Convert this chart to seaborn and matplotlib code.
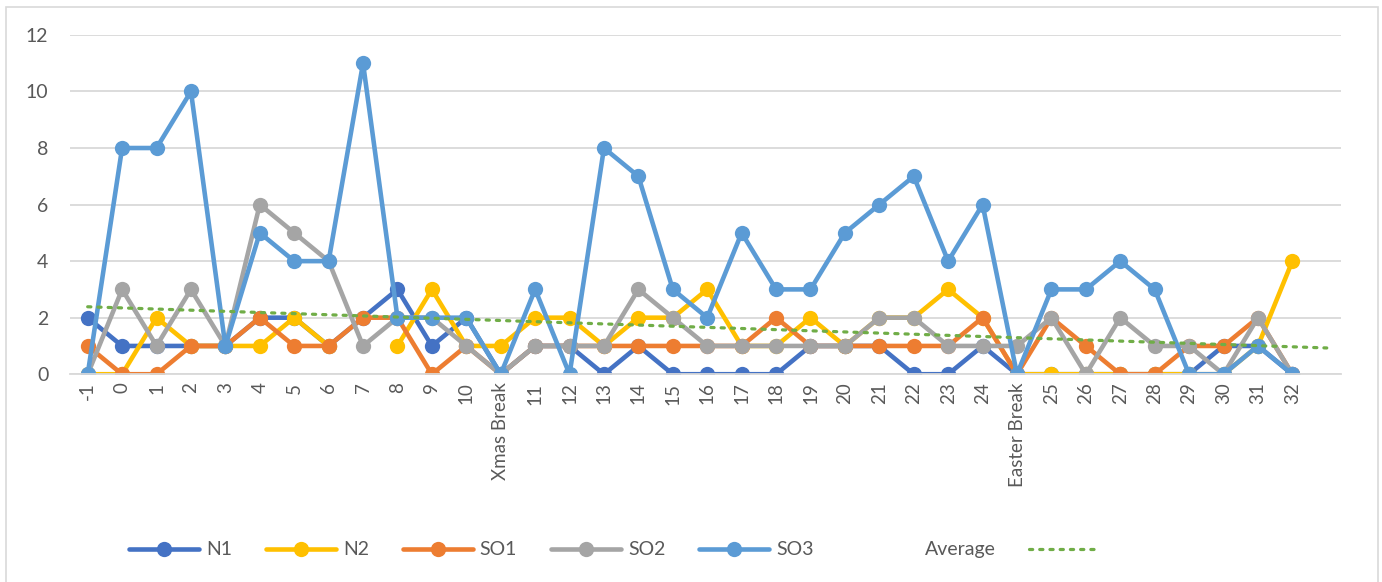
import pandas as pd
import numpy as np
import seaborn as sns
import matplotlib.pyplot as plt
from matplotlib.lines import Line2D
from matplotlib.patches import Rectangle

# weeks along the x axis
categories = ['-1', '0', '1', '2', '3', '4', '5', '6', '7', '8', '9', '10',
              'Xmas Break', '11', '12', '13', '14', '15', '16', '17', '18',
              '19', '20', '21', '22', '23', '24', 'Easter Break', '25', '26',
              '27', '28', '29', '30', '31', '32']

n1 = [2, 1, 1, 1, 1, 2, 2, 1, 2, 3, 1, 2, 0, 1, 1, 0, 1, 0, 0, 0, 0, 1, 1, 1,
      0, 0, 1, 0, 0, 0, 0, 0, 0, 1, 1, 0]
n2 = [0, 0, 2, 1, 1, 1, 2, 1, None, 1, 3, 1, 1, 2, 2, 1, 2, 2, 3, 1, 1, 2, 1, 2,
      2, 3, 2, 0, 0, 0, 0, 0, 0, 0, 1, 4]
so1 = [1, 0, 0, 1, 1, 2, 1, 1, 2, 2, 0, 1, 0, 1, 1, 1, 1, 1, 1, 1, 2, 1, 1, 1,
       1, 1, 2, 0, 2, 1, 0, 0, 1, 1, 2, 0]
so2 = [0, 3, 1, 3, 1, 6, 5, 4, 1, 2, 2, 1, 0, 1, 1, 1, 3, 2, 1, 1, 1, 1, 1, 2,
       2, 1, 1, 1, 2, 0, 2, 1, 1, 0, 2, 0]
so3 = [0, 8, 8, 10, 1, 5, 4, 4, 11, 2, 2, 2, 0, 3, 0, 8, 7, 3, 2, 5, 3, 3, 5, 6,
       7, 4, 6, 0, 3, 3, 4, 3, 0, 0, 1, 0]

series = {'N1': n1, 'N2': n2, 'SO1': so1, 'SO2': so2, 'SO3': so3}
colors = {'N1': '#4472C4', 'N2': '#FFC000', 'SO1': '#ED7D31',
          'SO2': '#A5A5A5', 'SO3': '#5B9BD5'}

df = pd.DataFrame(series, dtype=float)
df['idx'] = np.arange(len(categories))
df['Average'] = df[list(series)].mean(axis=1)

sns.set_theme(style='white')
plt.rcParams['font.family'] = ['Lato', 'DejaVu Sans']

fig = plt.figure(figsize=(13.82, 5.82), dpi=100)
ax = fig.add_axes([0.051, 0.357, 0.919, 0.583])

for name in series:
    # break the line where a value is missing
    d = df[['idx', name]].copy()
    d['seg'] = d[name].isna().cumsum()
    d = d.dropna()
    sns.lineplot(data=d, x='idx', y=name, units='seg', estimator=None,
                 color=colors[name], marker='o', markersize=11, linewidth=3.3,
                 markeredgewidth=0, ax=ax, legend=False)

# linear trendline of the average, one period forward
ax.set_xlim(0, len(categories))
sns.regplot(data=df, x='idx', y='Average', scatter=False, ci=None,
            truncate=False, ax=ax,
            line_kws=dict(color='#70AD47', linestyle=(0, (1, 2.2)),
                          linewidth=2.3, dash_capstyle='round'))

ax.set_xlim(-0.5, len(categories) + 0.4)
ax.set_ylim(0, 12)
ax.set_yticks(range(0, 13, 2))
ax.set_xticks(df['idx'])
ax.set_xticklabels(categories, rotation=90)
ax.tick_params(axis='x', length=0, labelsize=13.5, colors='#595959', pad=6)
ax.tick_params(axis='y', length=0, labelsize=14, colors='#595959', pad=16)
ax.set_xlabel('')
ax.set_ylabel('')
ax.grid(axis='y', color='#D9D9D9', linewidth=1.3)
ax.set_axisbelow(True)
for s in ['left', 'right', 'top']:
    ax.spines[s].set_visible(False)
ax.spines['bottom'].set_color('#D9D9D9')
ax.spines['bottom'].set_linewidth(1.3)

handles = [Line2D([], [], color=colors[n], marker='o', markersize=11,
                  linewidth=3.3, markeredgewidth=0) for n in series]
handles.append(Line2D([], [], color='none'))
handles.append(Line2D([], [], color='#70AD47', linestyle=(0, (1, 2.2)),
                      linewidth=2.3, dash_capstyle='round'))
labels = list(series) + ['Average', '']
fig.legend(handles, labels, loc='center', bbox_to_anchor=(0.447, 0.055),
           ncol=7, frameon=False, fontsize=14, handlelength=3.6,
           columnspacing=1.75, handletextpad=0.35, labelcolor='#595959',
           numpoints=1)

fig.patches.append(Rectangle((6 / 1382, -0.05), 1372 / 1382, 1.038,
                             transform=fig.transFigure, fill=False,
                             edgecolor='#D9D9D9', linewidth=1.2))

fig.savefig('out.png', dpi=100)
